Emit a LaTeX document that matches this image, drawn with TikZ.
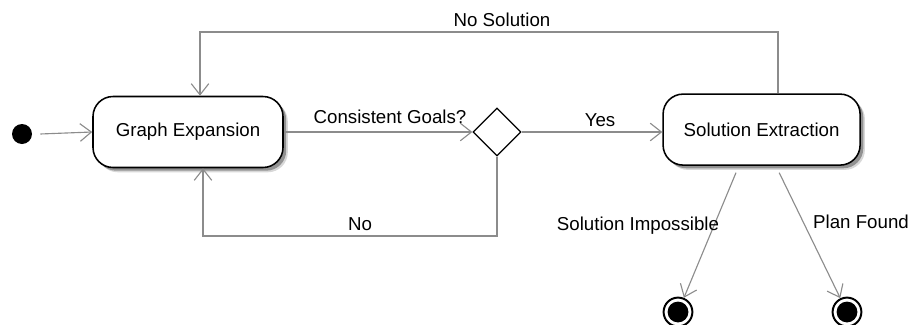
\documentclass[tikz,border=0pt]{standalone}
\usepackage{fontspec}
\setmainfont{Liberation Sans}
\usepackage{tikz}
\usetikzlibrary{shapes.geometric,arrows.meta,positioning,shadows}

\begin{document}
\begin{tikzpicture}[
    activity/.style={rectangle, rounded corners=0.5cm, draw=black, line width=1.1pt, fill=white,
                minimum height=1.775cm, align=center,
                drop shadow={shadow xshift=0.12cm, shadow yshift=-0.12cm, fill=black!30},
                drop shadow={shadow xshift=0.08cm, shadow yshift=-0.08cm, fill=black!70}},
    choice/.style={diamond, draw=black, line width=0.9pt, fill=white, inner sep=0pt,
                minimum width=1.2cm, minimum height=1.2cm},
    flow/.style={draw=black!45, line width=0.8pt, -{Straight Barb[length=2.8mm, width=4.4mm]}},
    lbl/.style={inner sep=1pt}
]
\fontsize{13.3}{16}\selectfont
\useasboundingbox (0,0) rectangle (22.8,8.1);

% Initial state
\node[circle, fill=black, minimum size=0.5cm, inner sep=0pt] (start) at (0.55, 4.75) {};

% Activities
\node[activity, minimum width=4.75cm] (expand) at (4.7, 4.8) {Graph Expansion};
\node[choice] (goals) at (12.425, 4.8) {};
\node[activity, minimum width=4.925cm] (extract) at (19.04, 4.86) {Solution Extraction};

% Final states
\node[circle, draw=black, line width=1.4pt, fill=white, minimum size=0.72cm, inner sep=0pt] (fail) at (16.95, 0.3) {};
\node[circle, fill=black, minimum size=0.52cm, inner sep=0pt] at (fail) {};
\node[circle, draw=black, line width=1.4pt, fill=white, minimum size=0.72cm, inner sep=0pt] (found) at (21.175, 0.3) {};
\node[circle, fill=black, minimum size=0.52cm, inner sep=0pt] at (found) {};

% Main flow
\draw[flow] ([xshift=0.2cm]start.east) -- (expand.west);
\draw[flow] (expand.east |- goals) -- (goals.west);
\draw[flow] (goals.east) -- (goals.east -| extract.west);

% Loops
\coordinate (topright) at (19.45, 7.3);
\coordinate (topleft) at (5.0, 7.3);
\draw[flow] (extract.north -| topright) -- (topright) -- (topleft) -- (topleft |- expand.north);
\coordinate (lowright) at (12.425, 2.2);
\coordinate (lowleft) at (5.075, 2.2);
\draw[flow] (goals.south) -- (lowright) -- (lowleft) -- (lowleft |- expand.south);

% Exits
\draw[flow] ([xshift=-0.64cm, yshift=-0.17cm]extract.south) -- (fail);
\draw[flow] ([xshift=0.44cm, yshift=-0.17cm]extract.south) -- (found);

% Labels
\node[lbl] (nosol) at (12.55, 7.6) {No Solution};
\node[lbl] (consistent) at (9.75, 5.175) {Consistent Goals?};
\node[lbl] (yes) at (15.0, 5.1) {Yes};
\node[lbl] (no) at (9.0, 2.5) {No};
\node[lbl] (impossible) at (15.95, 2.45) {Solution Impossible};
\node[lbl] (plan) at (21.525, 2.55) {Plan Found};

\end{tikzpicture}
\end{document}
